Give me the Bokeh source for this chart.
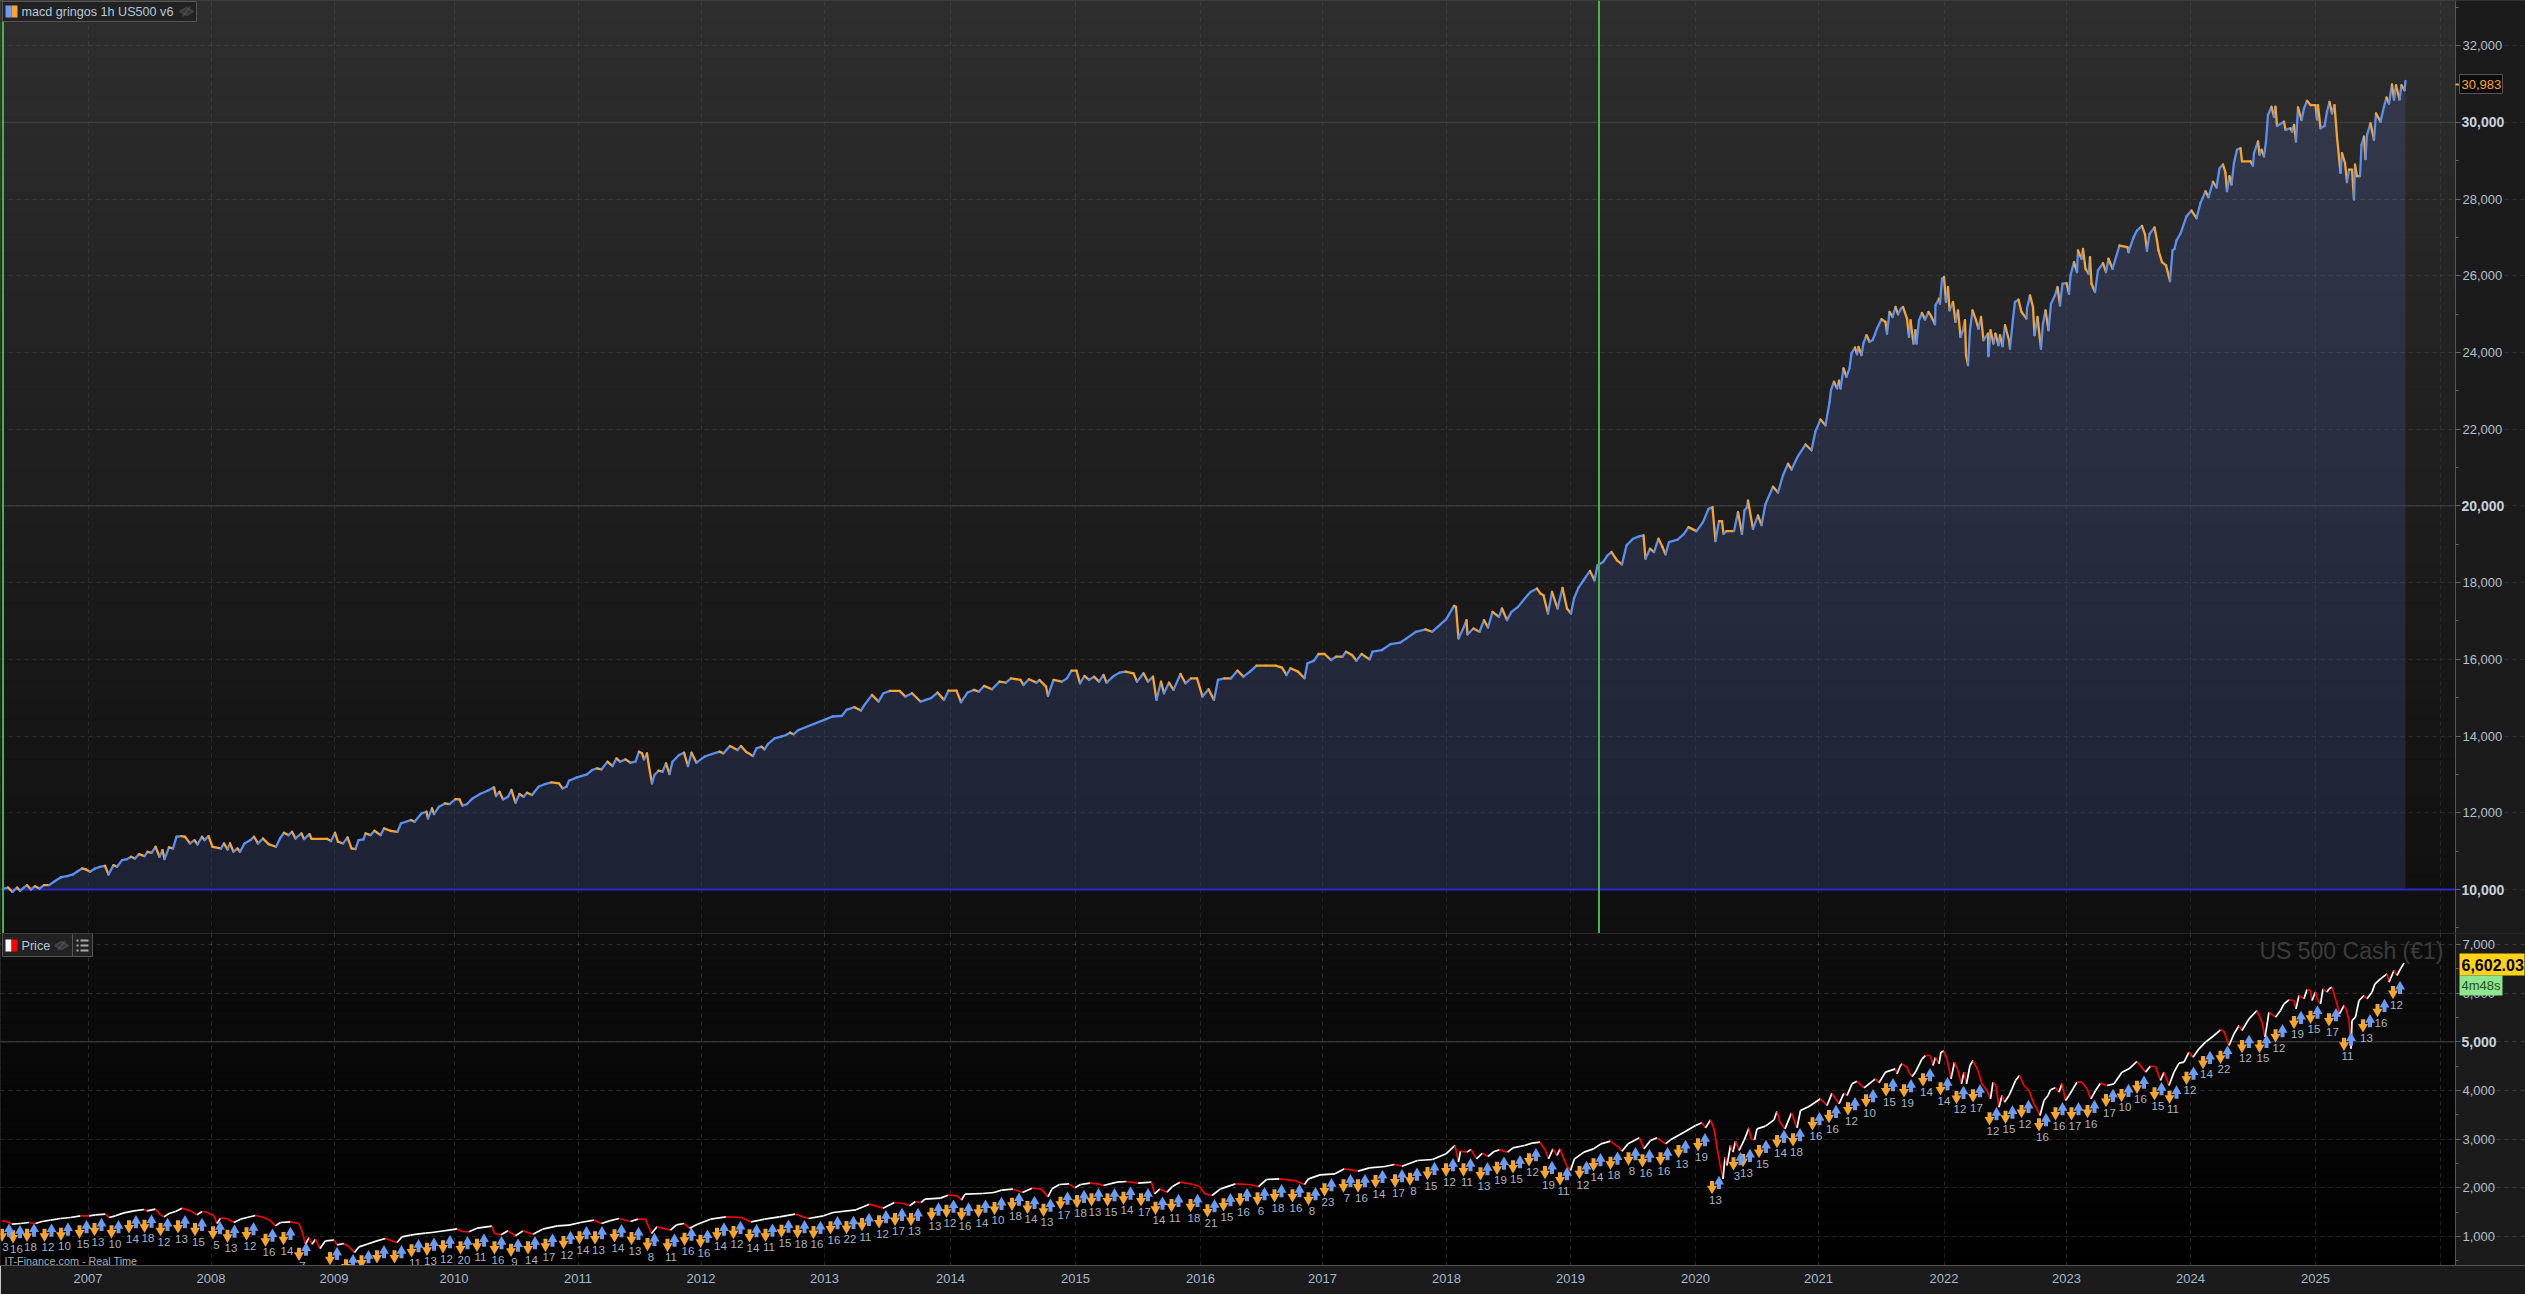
import numpy as np
from bokeh.embed import file_html
from bokeh.resources import INLINE
from bokeh.plotting import figure
from bokeh.layouts import column
from bokeh.models import (Range1d, FixedTicker, NumeralTickFormatter, Span, Label,
                          BoxAnnotation, PolyAnnotation, ColumnDataSource)
from bokeh.core.properties import value

# x is a bar number: the platform's time axis runs over trading bars
year_bars = [175, 421, 667, 907, 1155, 1401, 1648, 1900, 2150, 2400, 2644, 2892, 3140, 3390, 3636, 3887, 4132, 4380, 4630, 4880]
year_labels = ["2007", "2008", "2009", "2010", "2011", "2012", "2013", "2014", "2015", "2016", "2017", "2018", "2019", "2020", "2021", "2022", "2023", "2024", "2025", " "]
signal_lines = [5, 3197]

eq_bars = [8,15,24,33,39,46,53,61,69,78,87,97,107,120,133,145,153,163,171,179,189,199,209,216,226,233,243,253,261,269,277,288,294,302,310,318,324,328,337,345,352,362,369,379,388,394,403,408,416,424,441,447,454,459,466,474,479,488,500,507,515,525,536,551,559,567,576,583,590,602,607,618,622,653,661,669,675,685,694,702,710,716,726,730,740,748,760,767,780,794,801,811,821,828,842,852,855,863,867,877,889,898,910,918,924,933,944,959,974,987,991,998,1005,1015,1022,1030,1038,1046,1053,1063,1076,1089,1102,1117,1124,1132,1137,1153,1173,1183,1193,1202,1214,1224,1232,1239,1250,1260,1270,1277,1283,1287,1293,1297,1303,1308,1316,1324,1331,1338,1344,1357,1367,1375,1382,1392,1408,1423,1438,1446,1459,1474,1481,1491,1505,1512,1522,1528,1535,1548,1561,1571,1579,1586,1596,
 1651,1664,1683,1692,1708,1721,1728,1743,1756,1766,1779,1798,1810,1823,1840,1861,1874,1887,1896,1912,1921,1934,1947,1957,1967,1983,1998,2011,2021,2040,2046,2057,2072,2078,2091,2095,2106,2123,2133,2142,2152,2159,2168,2177,2187,2197,2206,2212,2225,2238,2250,2266,2273,2286,2295,2305,2312,2321,2327,2337,2346,2360,2370,2381,2393,2404,2416,2427,2435,2448,2461,2474,2486,2499,2512,2531,2550,2563,2572,2580,2595,2608,2614,2627,2636,2648,2661,2671,2684,2691,2703,2712,2722,2738,2744,2763,2780,2799,2812,2831,2850,2863,2876,2891,2907,2911,2916,2927,2932,2934,2946,2958,2967,2975,2984,2997,3003,3013,3022,3035,3054,3060,3073,3080,3086,3095,3103,3114,3124,3133,3141,3147,3156,3166,3179,3188,3194,3205,3214,3222,3233,3243,3252,3265,3277,3286,3290,3299,3307,3316,3324,3330,3337,3354,3367,3376,3392,3405,3416,3424,3430,3437,3443,3446,3452,3467,3475,3483,3488,3493,3495,
 3505,3515,3522,3530,3545,3555,3565,3575,3582,3595,3610,3622,3630,3640,3650,3658,
 3661,3667,3673,3677,3680,3686,3692,3698,3702,3709,3713,3716,3722,3726,3732,3738,3744,3749,3753,3762,3770,3773,3778,3784,3790,3795,3801,3805,3813,3817,3820,3826,3830,3832,3837,3843,3849,3856,3862,3869,3870,3877,3879,3883,3887,3891,3895,3898,3905,3910,3915,3920,3925,3929,3931,3935,3939,3944,3951,3956,3961,3966,3975,3976,3980,3986,3990,3996,3999,4004,4009,4017,4019,4025,4029,4036,4042,4052,4053,4059,4065,4068,4074,4081,4085,4090,4096,4101,4109,4114,4119,4124,4132,4137,4140,4147,4153,4155,4162,4165,4170,4176,4179,4182,4189,4195,4205,4211,4216,4224,4231,4238,4254,4256,4266,4273,4283,4289,4293,4298,4308,4313,4316,4323,4331,4339,4344,4348,4352,
 4360,4372,4382,4392,4400,4410,4416,4425,4432,4438,4445,
 4450,4453,4458,4462,4467,4473,4480,4483,4500,4505,4507,4515,4518,4522,4527,4531,4535,4542,4547,4550,4553,4567,4570,4580,4583,4587,4591,4595,4602,4607,4613,4620,4630,4633,4635,4640,4648,4653,4658,4663,4668,4673,4680,4683,4689,4693,4697,4703,4707,4709,4713,4719,4722,4727,4730,4733,4740,4747,4751,4760,4767,4772,4777,4783,4787,4791,4798,4802,4808,4810]
eq_vals = [10026,10052,9939,10052,9965,10044,10113,10000,10087,10026,10113,10113,10200,10313,10348,10392,10461,10548,10522,10461,10548,10592,10618,10392,10635,10592,10766,10792,10853,10809,10922,10870,10983,10957,11114,10853,11027,10792,11096,11070,11375,11392,11375,11201,11288,11175,11375,11288,11392,11114,11070,11201,11044,11201,10983,11070,10983,11201,11288,11375,11201,11331,11183,11114,11331,11479,11418,11505,11331,11462,11314,11444,11322,11322,11262,11479,11244,11201,11357,11070,11053,11288,11305,11462,11418,11531,11418,11592,11531,11505,11723,11766,11810,11766,11984,12027,11853,12114,11966,12158,12245,12227,12358,12349,12184,12227,12375,12488,12575,12662,12436,12549,12349,12419,12593,12262,12488,12419,12523,12462,12680,12749,12793,12767,12636,12680,12836,12923,13002,13115,13158,13132,13332,13219,13419,13332,13393,13306,13332,13593,13550,13393,13550,13202,12767,12984,13097,13071,13289,13010,13332,13506,13567,13219,13567,13306,13463,13532,13593,13550,13741,13637,13741,13593,13480,13680,13724,13654,13793,13941,13985,14028,14089,14046,14159,
 14441,14510,14528,14684,14753,14666,14814,15073,14900,15117,15177,15177,15030,15117,14900,14987,15134,14943,15186,15186,14883,15134,15203,15160,15307,15221,15420,15394,15506,15463,15333,15480,15394,15463,15290,15047,15463,15420,15506,15706,15706,15376,15567,15463,15550,15420,15593,15394,15550,15654,15680,15636,15420,15636,15420,15550,14943,15420,15117,15394,15203,15619,15376,15506,15506,15030,15221,14943,15463,15506,15506,15706,15550,15680,15835,15835,15835,15784,15593,15766,15680,15506,15896,15965,16139,16139,15983,16069,16069,16199,16113,15965,16139,16000,16199,16242,16398,16433,16546,16719,16779,16719,16866,17039,17394,17368,16546,16849,17022,16650,16805,16719,17022,16831,17238,17108,17325,17022,17238,17368,17671,17758,17845,17715,17671,17195,17758,17325,17862,17325,17195,17585,17871,18061,18304,18061,18451,18537,18711,18797,18581,18477,18970,19144,19204,19230,18624,18884,18797,19144,18927,18737,19057,19118,19273,19447,19343,19577,19923,19966,19083,19603,19603,19273,19343,19343,19836,19273,19880,19966,20139,
 19400,19750,19500,20050,20500,20350,20800,21100,20950,21300,21600,21450,21950,22250,22100,22700,
 23021,23237,23064,23263,23064,23584,23367,23584,23974,24129,23956,24147,23930,24251,24450,24277,24320,24476,24623,24866,24796,24493,25056,24926,25186,24995,25143,25186,24883,24407,24840,24233,24580,24233,24840,25030,24857,25056,24926,24736,25229,25402,25273,25922,25965,25316,25706,25099,25316,24796,25099,24407,24580,24840,23930,23670,24580,25099,24840,24623,24926,24320,24493,23904,24580,24233,24493,24190,24450,24164,24710,24320,24103,24883,25316,25376,25056,24883,25143,25489,25186,24450,24926,24103,24753,25099,24580,25273,25489,25706,25229,25792,25809,25532,26009,26355,26095,26658,26442,26701,26182,26052,26485,25792,25576,26139,26329,26095,26442,26182,26485,26788,26745,26615,27000,27178,27300,27080,26658,27090,27260,26918,26658,26355,26270,25860,26658,26700,26918,
 27100,27550,27700,27500,27900,28200,28050,28450,28300,28800,28900,
 28681,28207,28595,28379,28940,29285,29328,28983,28983,28871,29198,29500,29155,29285,29112,29500,30190,30405,30147,30405,29905,30017,29802,29845,29759,29931,29500,30388,30060,30362,30560,30448,30448,30078,30448,29845,29905,30276,30534,30233,30448,29629,28681,29198,28940,28440,28767,28767,27991,28897,28595,28595,29414,29629,29043,29672,29974,29543,30233,30017,30405,30646,30491,30991,30595,30965,30595,30965,30836,31078]

px_bars = [3,13,23,40,57,70,83,100,120,140,160,177,190,210,217,230,247,267,287,293,310,320,327,337,350,363,380,393,403,413,427,433,440,453,467,480,493,510,527,540,550,560,580,597,603,610,617,623,630,639,650,667,673,687,697,708,717,733,753,770,783,793,803,820,833,850,863,877,897,913,923,937,953,983,988,
 1001,1015,1030,1045,1065,1084,1114,1137,1160,1187,1202,1218,1237,1260,1275,1290,1302,1313,1340,1352,1367,1378,1394,1420,1451,1482,1501,1528,1558,1589,1616,1646,1665,1711,1738,1765,1788,1807,1818,1830,1841,1849,1880,1895,1914,1922,1929,1964,1987,2002,2025,2044,2063,2082,2095,
 2103,2118,2137,2149,2160,2179,2195,2206,2233,2252,2275,2302,2308,2319,2333,2344,2359,2386,2398,2409,2423,2440,2470,2497,2516,2532,2558,2589,2608,2616,2639,2669,2688,2715,2738,2769,2788,2803,2834,2864,2891,2909,2916,2920,2933,2941,2952,2964,2975,2987,2998,3014,3025,3048,3063,3079,3090,3096,3105,3113,3119,3132,3140,3148,3167,3186,3201,3220,3236,3243,3255,3278,
 3287,3300,3313,3330,3340,3367,3390,3403,3410,3420,3427,3433,3439,3445,3449,3453,3460,3465,3470,3477,3487,3497,3501,3508,3513,3530,3547,3553,3559,3569,3582,3593,3600,3617,3640,3653,3663,3677,3687,3693,3703,3713,3727,3750,3757,3770,3790,3793,3800,
 3803,3813,3817,3823,3830,3843,3850,3860,3865,3870,3877,3881,3887,3893,3901,3908,3915,3922,3927,3932,3939,3945,3955,3963,3973,3980,3985,3991,3997,4003,4008,4017,4023,4030,4038,4047,4057,4067,4073,4079,4087,4095,4100,4110,4117,4123,4130,4137,4143,4153,4163,4173,4181,4190,4200,4213,4227,4243,4257,4273,4290,4300,4310,4320,4327,4337,4347,4357,4367,4377,4385,4397,4410,4427,4440,4447,4457,4467,4477,4483,4497,4513,4523,4529,4537,4550,4560,
 4567,4577,4587,4591,4597,4607,4613,4620,4623,4630,4635,4640,4645,4653,4657,4663,4671,4678,4687,4691,4697,4701,4703,4710,4717,4727,4733,4743,4749,4760,4773,4777,4787,4793,4800,4807]
px_vals = [1322,1308,1253,1267,1288,1267,1308,1336,1370,1390,1425,1425,1445,1459,1390,1425,1486,1527,1555,1527,1562,1445,1404,1473,1514,1582,1527,1445,1514,1500,1425,1267,1377,1370,1288,1356,1390,1432,1390,1322,1219,1288,1301,1267,1116,842,979,842,945,753,911,925,829,856,788,671,788,842,911,959,911,877,993,1027,1048,1069,1082,1103,1130,1158,1103,1096,1171,1212,1062,
 1034,1116,1014,1116,1048,1151,1219,1233,1288,1336,1267,1322,1370,1308,1356,1356,1062,1199,1130,1240,1267,1171,1253,1356,1404,1390,1301,1356,1404,1459,1370,1425,1493,1548,1664,1582,1699,1678,1630,1719,1699,1767,1788,1849,1836,1747,1870,1884,1904,1952,1973,1904,1993,1973,1815,
 1979,2068,2082,2000,2068,2096,2082,2048,2116,2130,2096,2116,1876,1979,1911,2027,2116,2068,2027,1876,1842,1979,2082,2068,2027,2171,2185,2150,2068,2185,2267,2288,2390,2342,2411,2438,2479,2445,2562,2582,2699,2870,2527,2753,2733,2788,2596,2712,2644,2746,2781,2733,2822,2870,2918,2938,2767,2596,2801,2664,2801,2459,2356,2596,2733,2801,2904,2959,2836,2753,2904,3027,
 2801,2973,3027,2904,2986,3144,3281,3336,3233,3397,3212,2836,2493,2185,2630,2459,2870,2733,2959,2767,2973,3233,3007,2986,3212,3267,3397,3575,3349,3212,3541,3233,3589,3671,3829,3692,3945,3726,3945,3897,4137,4192,4055,4240,4158,4377,4445,4343,4514,
 4548,4479,4377,4288,4377,4651,4719,4719,4514,4685,4548,4788,4808,4651,4240,4582,4411,4137,4377,4137,4514,4616,4411,4137,4000,3829,4171,4103,3657,3897,3760,3897,4034,4205,4308,4103,4000,3726,3623,3486,3794,3897,4014,4055,3966,4137,3794,3897,4000,4171,4171,4034,3829,4000,4151,4103,4137,4377,4445,4596,4377,4500,4493,4205,4377,4103,4377,4562,4582,4788,4685,4856,4993,5130,5247,5219,4925,5164,5336,5233,5473,5644,5404,5096,5610,5507,5644,
 5781,5863,5849,5678,5952,5884,6075,6055,5849,6021,5849,5781,6089,6021,6089,6123,5849,5575,5747,5678,5438,4856,5438,5507,5849,5952,5884,6021,6192,6295,6397,6226,6466,6363,6500,6617]

sig_bars = [3,25,53,88,121,158,188,222,257,288,320,355,389,425,454,492,530,566,597,659,691,722,753,788,822,853,885,920,953,988,
 1021,1055,1090,1126,1158,1189,1228,1262,1294,1334,1368,1400,1433,1466,1498,1530,1562,1594,1626,1660,1692,1723,1757,1789,1821,1862,1892,1922,1956,1988,2023,2054,2086,
 2120,2153,2182,2214,2246,2281,2310,2342,2380,2414,2446,2479,2514,2548,2584,2616,2648,2686,2715,2750,2789,2819,2854,2891,2926,2960,2993,3025,3057,3089,3119,3158,3186,3220,3256,
 3284,3320,3356,3395,3423,3466,3485,3517,3553,3585,3624,3657,3695,3731,3771,
 3807,3845,3880,3912,3945,3978,4010,4042,4077,4110,4142,4174,4211,4242,4273,4308,4338,4372,4405,4440,4483,4518,4550,
 4587,4620,4657,4687,4725,4754,4785]
sig_vals = [1048,1014,1048,1048,1069,1116,1164,1116,1219,1233,1164,1219,1164,1096,1027,1075,945,979,658,568,418,500,603,603,726,760,808,788,842,788,
 740,788,842,897,993,993,1034,979,856,842,966,925,1069,1103,1034,1048,1130,1116,1103,1199,1206,1267,1322,1370,1370,1480,1541,1480,1541,1596,1685,1617,1562,
 1705,1740,1774,1774,1808,1774,1603,1657,1657,1548,1671,1774,1794,1856,1856,1794,1979,2061,2061,2150,2164,2198,2315,2390,2390,2308,2425,2452,2596,2335,2205,2335,2493,2527,2616,
 2575,2616,2767,2904,2027,2514,2582,2767,2973,3007,3336,3486,3644,3808,4034,
 4014,4240,4055,3877,3911,3438,3473,3589,3315,3541,3541,3589,3815,3918,4089,3952,3884,4274,4596,4705,4925,4925,5144,
 5418,5527,5473,4973,5349,5664,6034]
sig_labels = ["3","16","18","12","10","15","13","10","14","18","12","13","15","5","13","12","16","14","7","","","","","","11","13","12","20","11","16",
 "9","14","17","12","14","13","14","13","8","11","16","16","14","12","14","11","15","18","16","16","22","11","12","17","13","13","12","16","14","10","18","14","13",
 "17","18","13","15","14","17","14","11","18","21","15","16","6","18","16","8","23","7","16","14","17","8","15","12","11","13","19","15","12","19","11","12","14","18","8",
 "16","16","13","19","13","3","13","15","14","18","16","16","12","10","15",
 "19","14","14","12","17","12","15","12","16","16","17","16","17","10","16","15","11","12","14","22","12","15","12",
 "19","15","17","11","13","16","12"]

assert len(eq_bars) == len(eq_vals), (len(eq_bars), len(eq_vals))
assert len(px_bars) == len(px_vals), (len(px_bars), len(px_vals))
assert len(sig_bars) == len(sig_vals) == len(sig_labels), (len(sig_bars), len(sig_vals), len(sig_labels))

FONT = "Liberation Sans"
BLUE, ORANGE = "#5c90f0", "#f6a42c"
AXIS_TXT = "#b4c0cc"
X0, XA, X1 = 0, 4910, 5050      # left edge, price axis, right edge (in bars)
x_range = Range1d(X0, X1)


def base(height, y0, y1, bottom_border):
    p = figure(width=2525, height=height, x_range=x_range, y_range=Range1d(y0, y1),
               y_axis_location="right", toolbar_location=None, tools="", output_backend="svg",
               min_border_left=0, min_border_top=0, min_border_right=0, min_border_bottom=bottom_border)
    p.background_fill_color = "#000000"
    p.border_fill_color = "#1b1b1b"
    p.outline_line_color = "#555555"
    p.xgrid.ticker = FixedTicker(ticks=year_bars)
    p.xgrid.grid_line_color = "#ffffff"
    p.ygrid.grid_line_color = "#ffffff"
    p.xgrid.grid_line_dash = "4 4"
    p.ygrid.grid_line_dash = "4 4"
    p.yaxis.fixed_location = XA
    p.yaxis.formatter = NumeralTickFormatter(format="0,0")
    p.yaxis.axis_line_color = "#555555"
    p.yaxis.major_tick_line_color = "#666666"
    p.yaxis.minor_tick_line_color = "#666666"
    p.yaxis.major_tick_in = 0
    p.yaxis.minor_tick_in = 0
    p.yaxis.major_tick_out = 5
    p.yaxis.minor_tick_out = 3
    p.yaxis.major_label_standoff = 2
    p.yaxis.major_label_text_color = AXIS_TXT
    p.yaxis.major_label_text_font = FONT
    p.yaxis.major_label_text_font_size = "13px"
    return p


def gradient(p, y0, y1, g_bottom, g_top, n=48):
    edges = np.linspace(y0, y1, n + 1)
    grey = np.linspace(g_bottom, g_top, n).round().astype(int)
    cols = ["#%02x%02x%02x" % (g, g, g) for g in grey]
    p.quad(left=X0, right=X1, bottom=edges[:-1], top=edges[1:], fill_color=cols, line_color=cols, level="image")
    # the band of the price axis hides the grid
    p.quad(left=XA, right=X1, bottom=y0, top=y1, fill_color="#1b1b1b", line_color=None, level="underlay")


def hline(p, v, color, width):
    p.segment(x0=X0, x1=XA, y0=v, y1=v, line_color=color, line_width=width)


def txt(p, text, x, y, color, size, style="normal", align="left"):
    p.add_layout(Label(x=x, y=y, x_units="canvas", y_units="canvas", text=text, text_color=color,
                       text_font=FONT, text_font_size=size, text_font_style=style,
                       text_align=align, text_baseline="middle", level="overlay"))


def tick_txt(p, v, text):
    # bold round-number tick label, placed on the pane's own price scale
    p.add_layout(Label(x=4922, y=v, x_units="data", y_units="data", text=text, text_color="#c8d2dc",
                       text_font=FONT, text_font_size="14px", text_font_style="bold",
                       text_align="left", text_baseline="middle", level="overlay"))


def box(p, l, r, t, b, fill, line=None):
    p.add_layout(BoxAnnotation(left=l, right=r, top=t, bottom=b, left_units="canvas", right_units="canvas",
                               top_units="canvas", bottom_units="canvas", fill_color=fill, fill_alpha=1,
                               line_color=line, line_alpha=1 if line else 0, level="overlay"))


def eye(p, x, y):
    p.add_layout(PolyAnnotation(xs=[x, x + 7, x + 14, x + 7], ys=[y, y - 4, y, y + 4], xs_units="canvas", ys_units="canvas",
                                fill_color="#777777", fill_alpha=0.25, line_color="#777777", line_width=1.5, level="overlay"))
    p.add_layout(PolyAnnotation(xs=[x + 3, x + 11], ys=[y + 5, y - 5], xs_units="canvas", ys_units="canvas",
                                fill_alpha=0, line_color="#777777", line_width=2, level="overlay"))


# ---------------- equity pane ----------------
Y10 = 10000 + 889 / 0.03836
p1 = base(933, 10000 - 44 / 0.03836, Y10, 0)
p1.xaxis.visible = False
p1.xgrid.grid_line_alpha = 0.09
p1.ygrid.grid_line_alpha = 0.09
p1.ygrid.ticker = FixedTicker(ticks=list(range(10000, 34000, 2000)))
t1 = list(range(10000, 34000, 2000))
p1.yaxis.ticker = FixedTicker(ticks=t1, minor_ticks=list(range(9000, 34000, 1000)))
p1.yaxis.major_label_overrides = {10000: " ", 20000: " ", 30000: " "}
gradient(p1, 10000 - 44 / 0.03836, Y10, 15, 46)

p1.varea(x=eq_bars, y1=10000, y2=eq_vals, fill_color="#5372d1", fill_alpha=0.19)
for v in (20000, 30000):
    hline(p1, v, "#454545", 1)
hline(p1, 10000, "#2a2acc", 2)
for b in signal_lines:
    p1.add_layout(Span(location=b, dimension="height", line_color="#46b446", line_width=2))

eq_cols = [BLUE if b > a else ORANGE for a, b in zip(eq_vals[:-1], eq_vals[1:])]
p1.segment(x0=eq_bars[:-1], y0=eq_vals[:-1], x1=eq_bars[1:], y1=eq_vals[1:], line_color=eq_cols,
           line_width=2.3, line_cap="round")

for v in (10000, 20000, 30000):
    tick_txt(p1, v, f"{v:,}")

# legend of the equity pane
box(p1, 2, 196, 1, 21, "#222222", "#555555")
box(p1, 5, 11, 5, 17, "#6b9cf5")
box(p1, 11, 17, 5, 17, ORANGE)
txt(p1, "macd gringos  1h US500 v6", 21, 11, "#b8c8d8", "12.6px")
eye(p1, 179, 11)
# last value tag
box(p1, 2455, 2459, 83.5, 85, ORANGE)
box(p1, 2459, 2502, 74, 93, "#0c0c0c", "#555555")
txt(p1, "30,983", 2461, 84, ORANGE, "13px")

# ---------------- price pane ----------------
PX = 1 / 0.04867           # price units per pixel of this pane
p2 = base(361, 1000 - 29 * PX, 7000 + 11 * PX, 29)
p2.xgrid.grid_line_alpha = 0.14
p2.ygrid.grid_line_alpha = 0.14
p2.ygrid.ticker = FixedTicker(ticks=list(range(1000, 8000, 1000)))
p2.yaxis.ticker = FixedTicker(ticks=list(range(1000, 8000, 1000)), minor_ticks=list(range(500, 7500, 500)))
p2.yaxis.major_label_overrides = {5000: " "}
p2.xaxis.ticker = FixedTicker(ticks=year_bars)
p2.xaxis.major_label_overrides = {b: l for b, l in zip(year_bars, year_labels)}
p2.xaxis.major_tick_out = 0
p2.xaxis.major_tick_in = 0
p2.xaxis.minor_tick_out = 0
p2.xaxis.minor_tick_in = 0
p2.xaxis.axis_line_color = "#555555"
p2.xaxis.major_label_standoff = 5
p2.xaxis.major_label_text_color = "#a4b8ce"
p2.xaxis.major_label_text_font = FONT
p2.xaxis.major_label_text_font_size = "13px"
gradient(p2, 1000 - 29 * PX, 7000 + 11 * PX, 0, 14)
hline(p2, 5000, "#454545", 1)

px_cols = ["#ffffff" if b > a else "#ff0000" for a, b in zip(px_vals[:-1], px_vals[1:])]
p2.segment(x0=px_bars[:-1], y0=px_vals[:-1], x1=px_bars[1:], y1=px_vals[1:], line_color=px_cols, line_width=1.7)

# arrows and counts under the price
BAR_PX = 2                 # bars per pixel
sb = np.array(sig_bars, dtype=float)
sv = np.array(sig_vals, dtype=float)
ub, uv = sb + 7 * BAR_PX, sv + 3 * PX
p2.rect(x=sb, y=sv + 2.5 * PX, width=4, height=6, width_units="screen", height_units="screen",
        fill_color=ORANGE, line_color=None)
p2.scatter(x=sb, y=sv - 2 * PX, marker="inverted_triangle", size=10, fill_color=ORANGE, line_color=None)
p2.rect(x=ub, y=uv - 2.5 * PX, width=4, height=6, width_units="screen", height_units="screen",
        fill_color="#6b9cf5", line_color=None)
p2.scatter(x=ub, y=uv + 2 * PX, marker="triangle", size=10, fill_color="#6b9cf5", line_color=None)
src = ColumnDataSource(dict(x=sb + 3.5 * BAR_PX, y=sv, t=sig_labels))
p2.text(x="x", y="y", text="t", source=src, y_offset=13, text_align="center", text_baseline="middle",
        text_color="#a8b4c4", text_font=value(FONT), text_font_size="11.5px")

tick_txt(p2, 5000, "5,000")
txt(p2, "US 500 Cash (€1)", 2443, 17, "#3c3c3c", "23px", align="right")
txt(p2, "IT-Finance.com - Real Time", 4, 327, "#a8b0b8", "10.8px")

# legend of the price pane
box(p2, 2, 92, 0, 23, "#222222", "#555555")
box(p2, 5, 11, 6, 18, "#ffffff")
box(p2, 11, 17, 6, 18, "#ff0000")
txt(p2, "Price", 21, 12, "#b8c8d8", "12.6px")
eye(p2, 54, 12)
box(p2, 71.5, 72.5, 0, 23, "#555555")
for yy in (6, 11, 16):
    box(p2, 76, 78, yy, yy + 2, "#aaaaaa")
    box(p2, 80, 88, yy, yy + 2, "#aaaaaa")

# price and countdown tags
box(p2, 2459, 2524, 20, 42, "#ffd21a")
txt(p2, "6,602.03", 2461, 31, "#000000", "16px", "bold")
box(p2, 2459, 2502, 42, 62, "#8fe68f")
txt(p2, "4m48s", 2461, 52, "#1f4f1f", "13px")

page = column(p1, p2, spacing=0)
open("out.html", "w").write(file_html(page, INLINE))
